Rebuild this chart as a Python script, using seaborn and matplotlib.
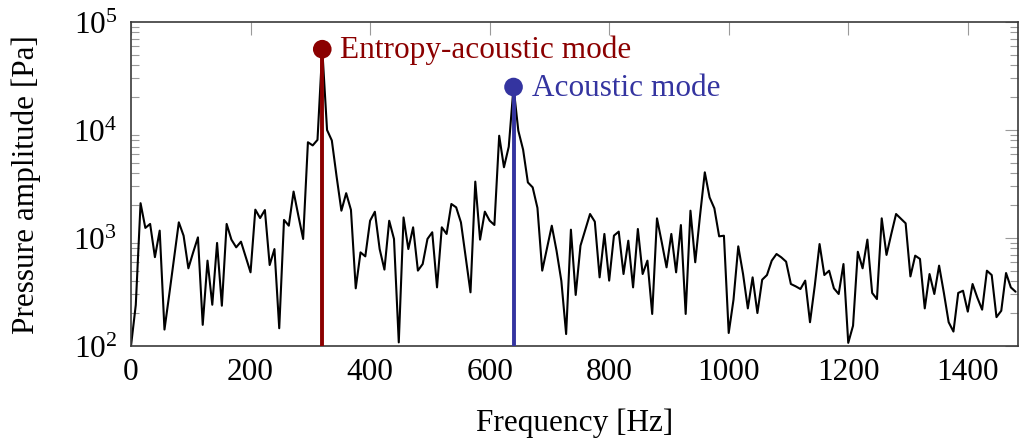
import numpy as np
import matplotlib
matplotlib.use("Agg")
import matplotlib.pyplot as plt
import seaborn as sns
from matplotlib.ticker import LogLocator, FuncFormatter, NullFormatter, FixedLocator

# ---- data ----
freq_step = 8  # Hz, spectral resolution
amplitude = [
    100, 240, 2100, 1240, 1350, 665, 1170, 142, 300, 648,          # 0-72
    1397, 1050, 524, 736, 1014, 157, 617, 241, 900, 236,           # 80-152
    1350, 966, 820, 925, 667, 481, 1830, 1530, 1815, 562,          # 160-232
    790, 146, 1470, 1300, 2690, 1610, 980, 7700, 7200, 8100,       # 240-312
    56000, 10000, 8000, 3700, 1790, 2600, 1820, 342, 736, 676,     # 320-392
    1445, 1750, 790, 510, 1445, 980, 108, 1550, 790, 1255,         # 400-472
    499, 574, 980, 1130, 349, 1256, 1090, 2065, 1923, 1396,        # 480-552
    662, 314, 3327, 966, 1754, 1448, 1320, 8850, 4520, 7000,       # 560-632
    25000, 9860, 6580, 3270, 2945, 1900, 499, 808, 1300, 760,      # 640-712
    400, 129, 1194, 297, 849, 1194, 1668, 1416, 432, 1090,         # 720-792
    403, 1052, 1146, 464, 944, 349, 1212, 464, 617, 198,           # 800-872
    1520, 912, 535, 1090, 481, 1318, 198, 1790, 596, 1610,         # 880-952
    4055, 2377, 1883, 1036, 1050, 132, 268, 837, 464, 223,         # 960-1032
    432, 202, 411, 454, 617, 711, 662, 604, 375, 357,              # 1040-1112
    337, 403, 166, 362, 879, 454, 498, 342, 303, 574,              # 1120-1192
    107, 154, 746, 524, 966, 310, 272, 1521, 697, 1089,            # 1200-1272
    1668, 1510, 1368, 441, 686, 640, 223, 464, 303, 555,           # 1280-1352
    310, 166, 136, 310, 325, 208, 375, 280, 217, 498,              # 1360-1432
    454, 185, 212, 474, 349, 318,                                  # 1440-1480
]
frequency = np.arange(len(amplitude)) * freq_step

mode_freq = [320, 640]
mode_amp = [56000, 25000]
mode_labels = ["Entropy-acoustic mode", "Acoustic mode"]
mode_colors = ["#8b0000", "#3434a0"]

x_ticks = [0, 200, 400, 600, 800, 1000, 1200, 1400]
x_label = "Frequency [Hz]"
y_label = "Pressure amplitude [Pa]"

# ---- style ----
sns.set_theme(style="white")
plt.rcParams["font.family"] = ["Liberation Serif", "DejaVu Serif"]
plt.rcParams["mathtext.fontset"] = "custom"
plt.rcParams["mathtext.rm"] = "Liberation Serif"
plt.rcParams["mathtext.it"] = "Liberation Serif:italic"
plt.rcParams["mathtext.bf"] = "Liberation Serif:bold"
plt.rcParams["text.color"] = "black"
plt.rcParams["axes.labelcolor"] = "black"
plt.rcParams["xtick.color"] = "black"
plt.rcParams["ytick.color"] = "black"

FS = 22.5

fig, ax = plt.subplots(figsize=(10.19, 4.39), dpi=100)
fig.subplots_adjust(left=131 / 1019, right=1018 / 1019, top=1 - 23 / 439, bottom=1 - 347 / 439)

sns.lineplot(x=frequency, y=amplitude, ax=ax, color="black", linewidth=1.5,
             estimator=None, sort=False, zorder=2)

ymin, ymax = 1e2, 1e5
ax.set_yscale("log")
ax.set_ylim(ymin, ymax)
ax.set_xlim(0, 1484)

# stems + markers
ax.vlines(mode_freq, ymin, mode_amp, colors=mode_colors, linewidth=2.8, zorder=3)
sns.scatterplot(x=mode_freq, y=mode_amp, hue=mode_labels, palette=mode_colors,
                s=180, ax=ax, legend=False, zorder=4, edgecolor="none")
for f, a, lab, c in zip(mode_freq, mode_amp, mode_labels, mode_colors):
    ax.annotate(lab, xy=(f, a), xytext=(13, 0), textcoords="offset points",
                ha="left", va="center", color=c, fontsize=FS)

# ticks
ax.xaxis.set_major_locator(FixedLocator(x_ticks))
ax.yaxis.set_major_locator(LogLocator(base=10, numticks=10))
ax.yaxis.set_minor_locator(LogLocator(base=10, subs=np.arange(2, 10), numticks=10))
ax.yaxis.set_minor_formatter(NullFormatter())
ax.yaxis.set_major_formatter(FuncFormatter(lambda v, p: r"$10^{%d}$" % round(np.log10(v))))

ax.tick_params(which="major", direction="in", length=9.4, width=0.8, color="#9a9a9a",
               top=True, right=True, labelsize=FS, labelcolor="black")
ax.tick_params(which="minor", direction="in", length=6.0, width=0.8, color="#9a9a9a",
               top=False, right=True, left=True, bottom=False)
ax.tick_params(axis="x", which="major", pad=8)
ax.tick_params(axis="y", which="major", pad=10)

for s in ax.spines.values():
    s.set_color("#3a3a3a")
    s.set_linewidth(1.2)
    s.set_visible(True)

ax.set_xlabel(x_label, fontsize=FS, color="black")
ax.set_ylabel(y_label, fontsize=FS, color="black")
ax.xaxis.set_label_coords(0.5, -0.19)
ax.yaxis.set_label_coords(-0.101, 0.5)
ax.grid(False)
ax.set_facecolor("white")
fig.patch.set_facecolor("white")

fig.savefig("out.png", dpi=100)
